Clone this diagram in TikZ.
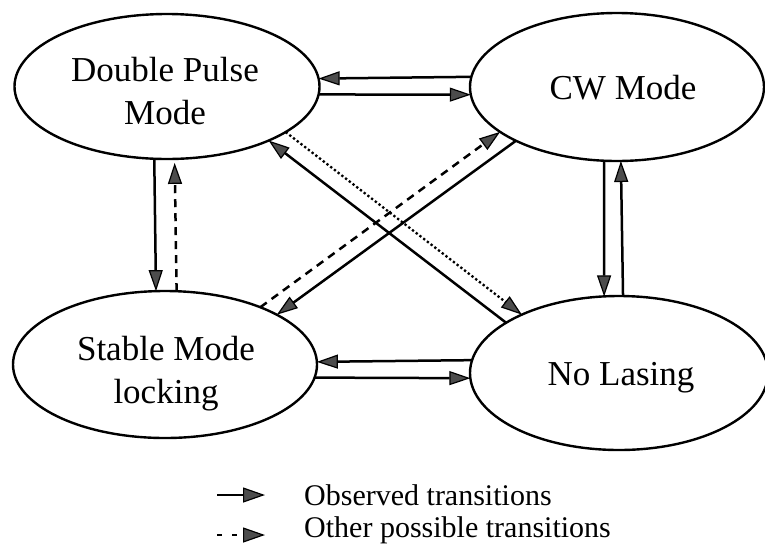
\documentclass[tikz,border=0pt]{standalone}
\usepackage{fontspec}
\setmainfont{Liberation Serif}
\usetikzlibrary{arrows.meta,shapes.geometric}
\begin{document}
\begin{tikzpicture}[x=1pt,y=-1pt,
  state/.style={draw, ellipse, line width=2.4pt, inner sep=0pt, outer sep=0pt},
  statetext/.style={font=\fontsize{35}{43}\selectfont, align=center, inner sep=0pt},
  legendtext/.style={font=\fontsize{30}{36}\selectfont, inner sep=0pt, anchor=base west},
  tiphead/.tip={Triangle[length=21pt,width=14pt,line width=1.2pt,fill=black!70]},
  bigtiphead/.tip={Triangle[length=22pt,width=15pt,line width=1.2pt,fill=black!70]},
  observed/.style={line width=2.5pt, -tiphead},
  possible/.style={line width=2.5pt, -tiphead, dash pattern=on 8pt off 6pt},
  dotpossible/.style={line width=2.3pt, -tiphead, dash pattern=on 2.3pt off 2.4pt},
]
\fill[white] (0,0) rectangle (765,547);
\useasboundingbox (0,0) rectangle (765,547);

% the four operating states
\node[state, minimum width=305pt, minimum height=145pt] (dp)  at (167,86.5) {};
\node[state, minimum width=294pt, minimum height=148pt] (cw)  at (617,87) {};
\node[state, minimum width=304pt, minimum height=147pt] (sml) at (165,364.5) {};
\node[state, minimum width=298pt, minimum height=154pt] (nl)  at (619,373) {};

\node[statetext] (dpt)  at (165,91)  {Double Pulse\\Mode};
\node[statetext] (cwt)  at (623,88)  {CW Mode};
\node[statetext] (smlt) at (166,374) {Stable Mode\\locking};
\node[statetext] (nlt)  at (621,378) {No Lasing};

% horizontal pairs
\draw[observed] (cw.176.27) -- (dp.3.40);
\draw[observed] (dp.-3.21) -- (cw.183.13);
\draw[observed] (nl.175.34) -- (sml.1.32);
\draw[observed] (sml.-5.95) -- (nl.182.70);

% vertical pairs
\draw[observed] (dp.260.57) -- (sml.97.76);
\draw[possible, shorten >=4pt] (sml.81.77) -- (dp.276.78);
\draw[observed] (cw.260.0) -- (nl.101.08);
\draw[observed] (nl.87.77) -- (cw.273.87);

% diagonals
\draw[observed] (nl.156.86) -- (dp.-28.59);
\draw[dotpossible] (dp.-21.93) -- (nl.149.29);
\draw[possible] (sml.31.59) -- (cw.201.29);
\draw[observed] (cw.208.98) -- (sml.24.54);

% legend
\coordinate (la) at (217,495);
\coordinate (lb) at (265,495);
\coordinate (lc) at (217,535);
\coordinate (ld) at (265,535);
\draw[line width=2.5pt, -bigtiphead] (la) -- (lb);
\draw[line width=2.5pt, -bigtiphead, dash pattern=on 5pt off 10pt] (lc) -- (ld);
\node[legendtext] (lg1) at (304,505) {Observed transitions};
\node[legendtext] (lg2) at (304,537) {Other possible transitions};
\end{tikzpicture}
\end{document}
